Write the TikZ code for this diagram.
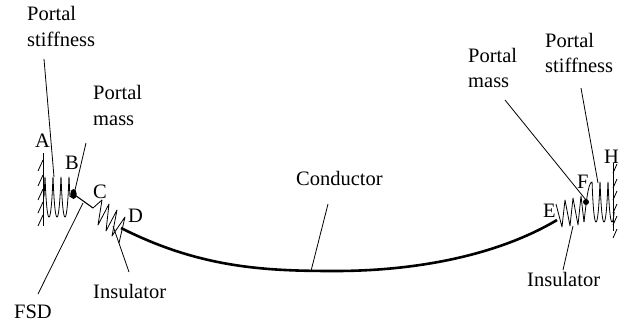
\documentclass[tikz,border=0pt]{standalone}
\usepackage{fontspec}
\setmainfont{Liberation Serif}
\begin{document}
\begin{tikzpicture}[x=1pt,y=-1pt,line join=round,
  thin line/.style={line width=0.8pt},
  coil/.style={line width=0.8pt},
  lab/.style={font=\fontsize{20.5}{24}\selectfont,inner sep=0pt,anchor=base west,align=left},
  cond/.style={line width=2.6pt}]
\useasboundingbox (0,0) rectangle (626,327);
% labels
\node[lab] (t1) at (27,20) {Portal};
\node[lab] (t2) at (27,46) {stiffness};
\node[lab] (t3) at (93,99) {Portal};
\node[lab] (t4) at (93,125) {mass};
\node[lab] (tA) at (35,147) {A};
\node[lab] (tB) at (65,169) {B};
\node[lab] (tC) at (93,198) {C};
\node[lab] (tD) at (128,222) {D};
\node[lab] (t5) at (296,185) {Conductor};
\node[lab] (t6) at (93,298) {Insulator};
\node[lab] (t7) at (14,318) {FSD};
\node[lab] (t8) at (468,62) {Portal};
\node[lab] (t9) at (468,87) {mass};
\node[lab] (t10) at (545,47) {Portal};
\node[lab] (t11) at (545,72) {stiffness};
\node[lab] (tH) at (604,163) {H};
\node[lab] (tF) at (577,188) {F};
\node[lab] (tE) at (543,217) {E};
\node[lab] (t12) at (527,286) {Insulator};
% coordinates
\coordinate (cd) at (121,228);
\coordinate (ce) at (557,220);
\coordinate (dl) at (73.5,194);
\coordinate (dr) at (586,202);
\coordinate (cl) at (93,208);
% walls
\draw[line width=0.9pt] (43,153) -- (43,226);
\foreach \y in {160,175,189,202,215}
  \draw[thin line] (43,\y) -- (38,\y+11);
\draw[line width=0.9pt] (613,163) -- (613,231);
\foreach \y in {173,188,200,213,225,238}
  \draw[thin line] (613,\y) -- (617,\y-9);
% left coil
\draw[coil,smooth,samples=160,domain=-90:1170,variable=\t]
  (43,197) -- plot ({45+8*\t/360-1*sin(\t)},{197-20*cos(\t)}) -- (dl);
\fill (dl) ellipse [x radius=3.2,y radius=5];
\draw[line width=1.1pt] (dl) -- (cl);
% left insulator
\draw[coil] (cl) -- (102,200) -- (98,225) -- (109,204) -- (106,231) -- (117,210) -- (112,236) -- (125,217) -- (119,243);
% conductor
\draw[cond] (cd) .. controls (200,268) and (265,271) .. (335,271) .. controls (420,271) and (500,254) .. (ce);
% right insulator
\draw[coil] (556,204) -- (562,227) -- (565,200) -- (570,226) -- (573,198) -- (578,225) -- (581,196) -- (584,222);
\fill (dr) circle (3);
% right coil
\draw[coil,smooth,samples=120,domain=0:960,variable=\t]
  (584,222) .. controls (586,205) and (588,182) .. (592,182)
  -- plot ({592+8*\t/360-1*sin(\t)},{202-20*cos(\t)});
% leaders
\coordinate (a1) at (44,59); \coordinate (a2) at (54,177);
\coordinate (b1) at (86,143); \coordinate (b2) at (75,190);
\coordinate (c1) at (38,294); \coordinate (c2) at (83,203);
\coordinate (d1) at (328,204); \coordinate (d2) at (311,271);
\coordinate (e1) at (129,272); \coordinate (e2) at (113,226);
\coordinate (f1) at (563,270); \coordinate (f2) at (573,226);
\coordinate (g1) at (505,100); \coordinate (g2) at (586,200);
\coordinate (h1) at (581,88); \coordinate (h2) at (598,183);
\foreach \p/\q in {a1/a2,b1/b2,c1/c2,d1/d2,e1/e2,f1/f2,g1/g2,h1/h2}
  \draw[thin line] (\p) -- (\q);
\end{tikzpicture}
\end{document}
